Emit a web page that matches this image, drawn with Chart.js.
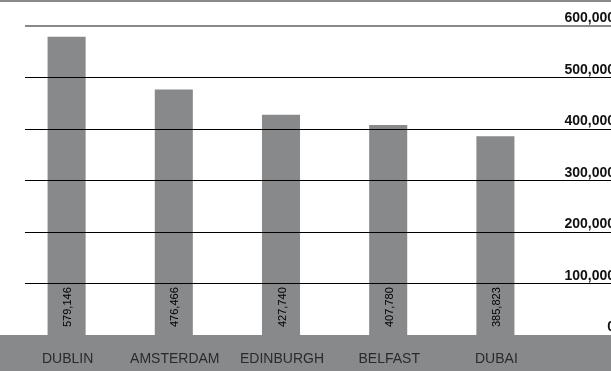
<!DOCTYPE html>
<html>
<head>
<meta charset="utf-8">
<script src="https://cdn.jsdelivr.net/npm/chart.js@4.4.1/dist/chart.umd.min.js"></script>
<style>
  html, body { margin: 0; padding: 0; background: #fff; }
  #wrap { width: 611px; height: 371px; }
</style>
</head>
<body>
<div id="wrap"><canvas id="cityChart" width="611" height="371"></canvas></div>
<script>
const cities = ['DUBLIN', 'AMSTERDAM', 'EDINBURGH', 'BELFAST', 'DUBAI'];
const visitors = [579146, 476466, 427740, 407780, 385823];
const tickValues = [0, 100000, 200000, 300000, 400000, 500000, 600000];
const tickLabels = ['0', '100,000', '200,000', '300,000', '400,000', '500,000', '600,000'];

const GREY = '#87898b';
const FONT = '"Liberation Sans", Arial, Helvetica, sans-serif';

// background band, grid lines and all the text are painted by hand
const decor = {
    id: 'decor',
    beforeDraw(chart) {
        const { ctx, width, height, chartArea } = chart;
        ctx.save();
        ctx.fillStyle = GREY;
        ctx.fillRect(0, 0, width, 2);
        ctx.fillRect(0, chartArea.bottom, width, height - chartArea.bottom);
        ctx.restore();
    },
    afterDatasetsDraw(chart) {
        const { ctx, width, chartArea } = chart;
        const xs = chart.scales.x;
        const ys = chart.scales.y;
        ctx.save();

        // horizontal rules run over the bars
        tickValues.forEach((v) => {
            if (v === 0) return;
            const py = ys.getPixelForValue(v);
            if (v === 600000) {
                ctx.fillStyle = GREY;
                ctx.fillRect(25, Math.round(py) - 1, width - 25, 2);
            } else {
                ctx.fillStyle = '#000';
                ctx.fillRect(25, Math.floor(py), width - 25, 1);
            }
        });

        // axis numbers on the right, sitting on their rule
        ctx.font = 'bold 14px ' + FONT;
        ctx.fillStyle = '#111';
        ctx.textAlign = 'right';
        ctx.textBaseline = 'alphabetic';
        tickValues.forEach((v, i) => {
            ctx.fillText(tickLabels[i], width + 4, ys.getPixelForValue(v) - 4);
        });

        // values written up the foot of each bar
        ctx.font = '11px ' + FONT;
        ctx.fillStyle = '#000';
        ctx.textAlign = 'left';
        ctx.textBaseline = 'middle';
        visitors.forEach((v, i) => {
            const px = xs.getPixelForValue(i);
            ctx.save();
            ctx.translate(px + 1.5, chartArea.bottom - 8);
            ctx.rotate(-Math.PI / 2);
            ctx.fillText(v.toLocaleString('en-US'), 0, 0);
            ctx.restore();
        });

        // city names in the grey band
        ctx.font = '14px ' + FONT;
        ctx.fillStyle = '#2a2a2a';
        ctx.textAlign = 'center';
        ctx.textBaseline = 'alphabetic';
        cities.forEach((c, i) => {
            ctx.fillText(c, xs.getPixelForValue(i) + 1, chartArea.bottom + 28);
        });

        ctx.restore();
    }
};

new Chart(document.getElementById('cityChart'), {
    type: 'bar',
    data: {
        labels: cities,
        datasets: [{
            data: visitors,
            backgroundColor: GREY,
            borderWidth: 0,
            barPercentage: 0.355,
            categoryPercentage: 1
        }]
    },
    options: {
        responsive: false,
        animation: false,
        devicePixelRatio: 1,
        layout: {
            padding: { left: 13, right: 62, top: 26, bottom: 36 }
        },
        plugins: {
            legend: { display: false },
            tooltip: { enabled: false }
        },
        scales: {
            x: { display: false },
            y: { display: false, min: 0, max: 600000 }
        }
    },
    plugins: [decor]
});
</script>
</body>
</html>
